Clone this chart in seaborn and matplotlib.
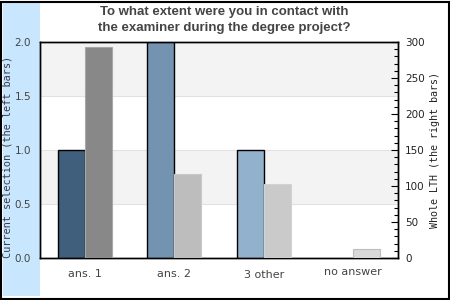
import matplotlib
matplotlib.use("Agg")
import matplotlib.pyplot as plt
import matplotlib.transforms as mtransforms
from matplotlib.patches import Rectangle
from matplotlib.ticker import MultipleLocator
import seaborn as sns
import pandas as pd

categories = ["ans. 1", "ans. 2", "3 other", "no answer"]
current_selection = [1, 2, 1, 0]
whole_lth = [293, 117, 103, 13]
left_colors = ["#3f5f7c", "#7393b0", "#92b1cc", "#a9c4dc"]
right_colors = ["#888888", "#bdbdbd", "#cacaca", "#d9d9d9"]
right_edges = ["#a8a8a8", "#c8c8c8", "#d2d2d2", "#bdbdbd"]
title = "To what extent were you in contact with\nthe examiner during the degree project?"
left_label = "Current selection (the left bars)"
right_label = "Whole LTH (the right bars)"
series_names = ["Current selection", "Whole LTH"]

sns.set_theme(style="white")
plt.rcParams["font.family"] = ["DejaVu Sans"]

W, H = 450, 300
fig = plt.figure(figsize=(4.5, 3.0), dpi=100)
fig.patches.append(Rectangle((3 / W, 4 / H), 37 / W, 293 / H, transform=fig.transFigure,
                             facecolor="#c8e7ff", edgecolor="none", zorder=-5))
fig.patches.append(Rectangle((0.5 / W, 1.5 / H), 448 / W, 297 / H, transform=fig.transFigure,
                             facecolor="none", edgecolor="black", linewidth=1.5, zorder=5))

ax = fig.add_axes([40 / W, (H - 258) / H, 358 / W, 216 / H])
ax.set_facecolor("none")


def make_df(left_vals, right_vals):
    return pd.concat([
        pd.DataFrame({"cat": categories, "val": left_vals, "series": series_names[0]}),
        pd.DataFrame({"cat": categories, "val": right_vals, "series": series_names[1]}),
    ])


sns.barplot(data=make_df(current_selection, [0] * 4), x="cat", y="val", hue="series",
            hue_order=series_names, order=categories, ax=ax, width=0.6, legend=False,
            errorbar=None, zorder=3)
for p, c in zip(ax.containers[0].patches, left_colors):
    p.set_facecolor(c)
    p.set_edgecolor("black")
    p.set_linewidth(1.0)
    if p.get_height() == 0:
        p.set_visible(False)
for p in ax.containers[1].patches:
    p.set_visible(False)

ax.set_ylim(0, 2.0)
ax.set_xlim(-0.5, 3.5)
for lo, hi in [(0.5, 1.0), (1.5, 2.0)]:
    ax.axhspan(lo, hi, color="#f3f3f3", zorder=0, lw=0)
for y in [0.5, 1.0, 1.5]:
    ax.axhline(y, color="#e2e2e2", lw=0.8, zorder=1)

ax2 = ax.twinx()
sns.barplot(data=make_df([0] * 4, whole_lth), x="cat", y="val", hue="series",
            hue_order=series_names, order=categories, ax=ax2, width=0.6, legend=False,
            errorbar=None, zorder=3)
for p in ax2.containers[0].patches:
    p.set_visible(False)
for p, c, e in zip(ax2.containers[1].patches, right_colors, right_edges):
    p.set_facecolor(c)
    p.set_edgecolor(e)
    p.set_linewidth(0.8)
ax2.set_ylim(0, 300)
ax2.set_xlim(-0.5, 3.5)

for a in (ax, ax2):
    for s in a.spines.values():
        s.set_color("black")
        s.set_linewidth(1.0)
        s.set_visible(True)

ax.set_yticks([0, 0.5, 1.0, 1.5, 2.0])
ax.set_yticklabels(["0.0", "0.5", "1.0", "1.5", "2.0"])
ax.tick_params(axis="y", length=0, pad=6.5, labelsize=7.5, labelcolor="#444444")
ax.tick_params(axis="x", length=0, pad=8, labelsize=8, labelcolor="#444444")
ax.set_xlabel("")
ax.set_ylabel(left_label, family="DejaVu Sans Mono", fontsize=7.4, color="#3a3a4a")
ax.yaxis.set_label_coords(-0.077, 0.468)

offsets = [0, 0, -1, 2]
for lbl, dy in zip(ax.get_xticklabels(), offsets):
    lbl.set_transform(lbl.get_transform() + mtransforms.ScaledTranslation(0, dy / 100, fig.dpi_scale_trans))

ax2.yaxis.set_major_locator(MultipleLocator(50))
ax2.yaxis.set_minor_locator(MultipleLocator(10))
ax2.tick_params(axis="y", which="major", direction="in", length=5, width=0.8, color="black",
                pad=5, labelsize=7.5, labelcolor="#222222")
ax2.tick_params(axis="y", which="minor", direction="in", length=3, width=0.8, color="black")
ax2.set_ylabel(right_label, family="DejaVu Sans Mono", fontsize=7.2, color="#222222")
ax2.yaxis.set_label_coords(1.089, 0.5)
ax2.set_xlabel("")

fig.text(224 / W, 1 - 20 / H, title, ha="center", va="center", fontsize=9.5, fontweight="bold",
         color="#444444", family="Liberation Sans", linespacing=1.4)

fig.savefig("out.png", dpi=100)
